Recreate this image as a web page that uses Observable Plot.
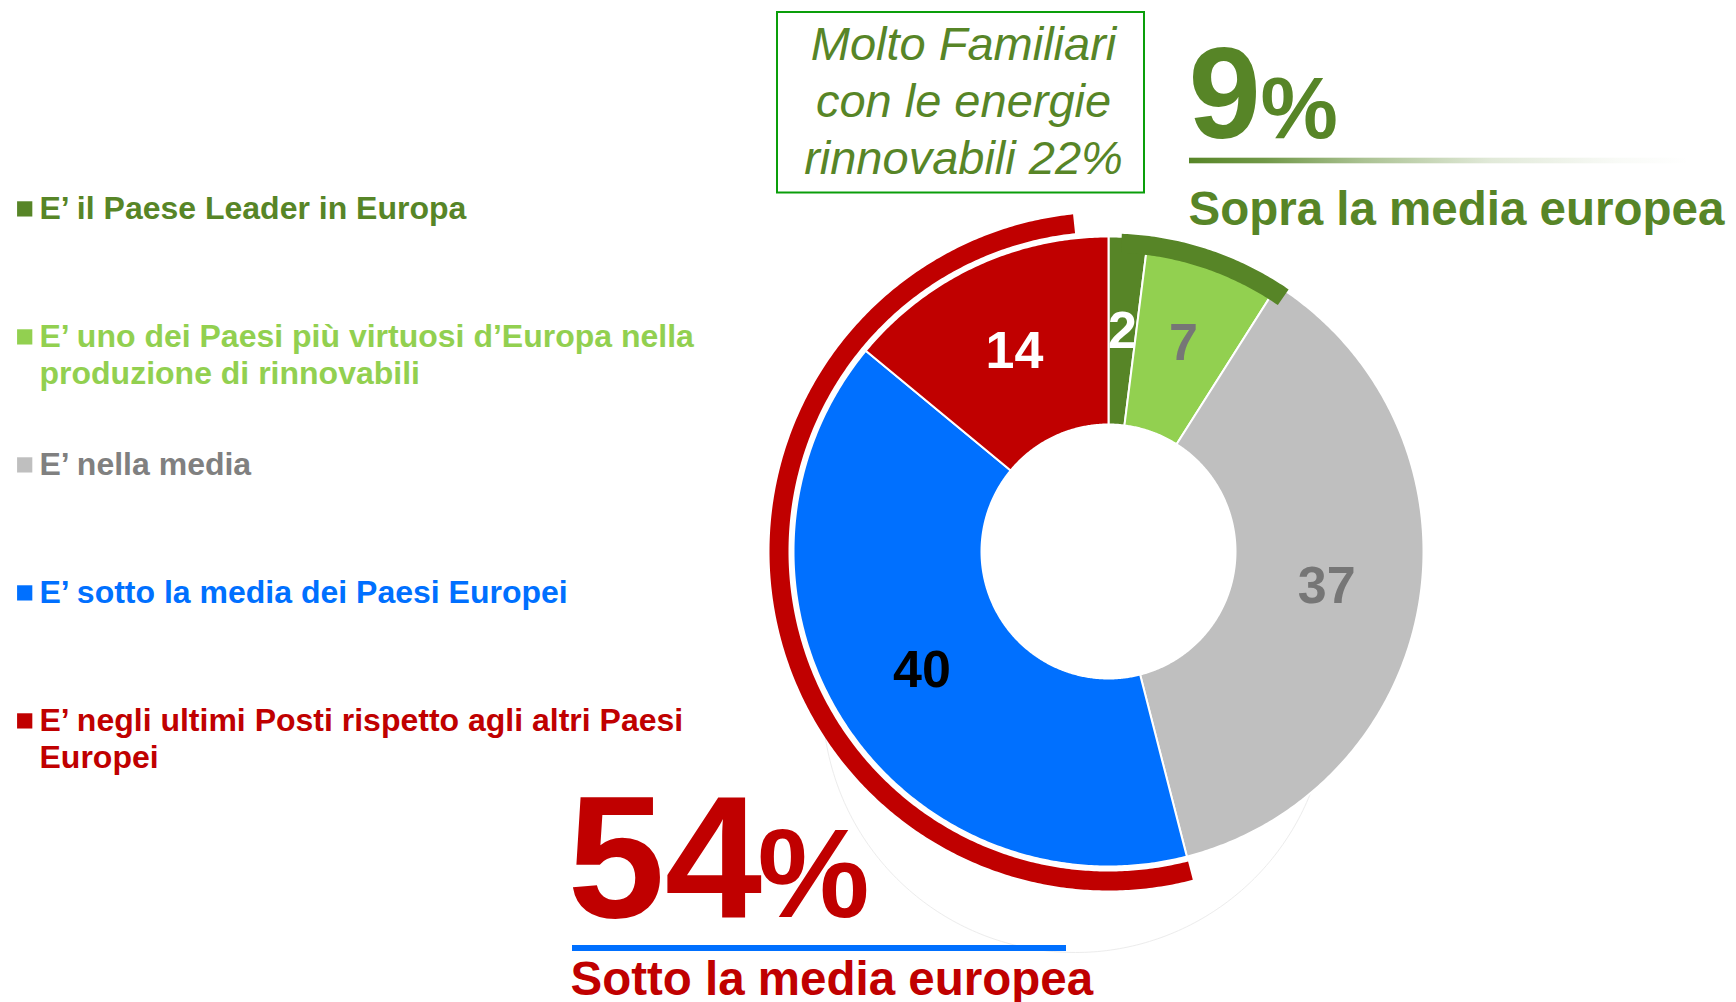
<!DOCTYPE html>
<html>
<head>
<meta charset="utf-8">
<script src="https://cdn.jsdelivr.net/npm/d3@7"></script>
<script src="https://cdn.jsdelivr.net/npm/@observablehq/plot@0.6"></script>
<style>
  html, body { margin: 0; padding: 0; background: #ffffff; }
  #chart svg { display: block; }
</style>
</head>
<body>
<div id="chart"></div>
<script>
// ---------- data ----------
const categories = [
  "E’ il Paese Leader in Europa",
  "E’ uno dei Paesi più virtuosi d’Europa nella\nproduzione di rinnovabili",
  "E’ nella media",
  "E’ sotto la media dei Paesi Europei",
  "E’ negli ultimi Posti rispetto agli altri Paesi\nEuropei"
];
const values = [2, 7, 37, 40, 14];
const aboveText = "9";
const aboveLabel = "Sopra la media europea";
const belowText = "54";
const belowLabel = "Sotto la media europea";
const boxText = "Molto Familiari\ncon le energie\nrinnovabili 22%";

// ---------- styles ----------
const sliceColors = ["#578527", "#92d050", "#bfbfbf", "#0070ff", "#c00000"];
const legendTextColors = ["#578527", "#92d050", "#808080", "#0070ff", "#c00000"];
const labelColors = ["#ffffff", "#767676", "#767676", "#000000", "#ffffff"];
const GREEN = "#578527", RED = "#c00000", BLUE = "#0070ff";

// ---------- layout ----------
const W = 1736, H = 1002;
const C = {x: 1108, y: 551};
const R_OUT = 315, R_IN = 127;
const deg = Math.PI / 180;

const pie = d3.pie().sort(null).value(d => d)(values);

function ring(a0, a1, r0, r1, key) {
  const pts = [];
  const n = Math.max(2, Math.ceil((a1 - a0) / (0.5 * deg)));
  for (let k = 0; k <= n; ++k) {
    const a = a0 + (a1 - a0) * k / n;
    pts.push({key, x: C.x + r1 * Math.sin(a), y: C.y - r1 * Math.cos(a)});
  }
  for (let k = n; k >= 0; --k) {
    const a = a0 + (a1 - a0) * k / n;
    pts.push({key, x: C.x + r0 * Math.sin(a), y: C.y - r0 * Math.cos(a)});
  }
  return pts;
}

const slicePts = pie.flatMap((p, i) => ring(p.startAngle, p.endAngle, R_IN, R_OUT, categories[i]));
const greenBracket = ring(pie[0].startAngle + 2.4 * deg, pie[1].endAngle + 2.1 * deg, 299, 318, "g");
const redBracket = ring(pie[3].startAngle, pie[4].endAngle - 6 * deg, 320, 339, "r");

// faint shadow outline below the donut (lower part only)
const shadow = d3.range(105, 266, 1).map(a => ({x: 1075 + 253 * Math.sin(a * deg), y: 699 - 253 * Math.cos(a * deg)}));

const labels = pie.map((p, i) => {
  const a = (p.startAngle + p.endAngle) / 2, r = (R_IN + R_OUT) / 2;
  return {text: String(values[i]), color: labelColors[i], x: C.x + r * Math.sin(a), y: C.y - r * Math.cos(a)};
});

const LEG_TOP = 218, LEG_STEP = 128, LEG_LH = 37.5;
const legend = categories.map((c, i) => {
  const n = c.split("\n").length;
  return {key: c, text: c, color: legendTextColors[i], base: LEG_TOP + i * LEG_STEP, last: LEG_TOP + i * LEG_STEP + (n - 1) * LEG_LH};
});

const gradientDefs = () => {
  const defs = d3.create("svg:defs");
  const g = defs.append("linearGradient").attr("id", "fadeGreen")
    .attr("x1", 0).attr("x2", 1).attr("y1", 0).attr("y2", 0);
  [[0, 1], [0.15, 0.85], [0.35, 0.5], [0.6, 0.18], [0.85, 0.04], [1, 0]].forEach(([o, op]) =>
    g.append("stop").attr("offset", o).attr("stop-color", GREEN).attr("stop-opacity", op));
  return defs.node();
};

const boldText = (data, opts) => Plot.text(data, {text: d => d, fontWeight: "bold", textAnchor: "start", lineAnchor: "bottom", ...opts});

const marks = [
  gradientDefs,
  Plot.line(shadow, {x: "x", y: "y", stroke: "#ececec", strokeWidth: 1}),
  Plot.line(slicePts, {x: "x", y: "y", z: "key", fill: "key", stroke: "#ffffff", strokeWidth: 2, strokeLinejoin: "round", curve: "linear-closed"}),
  Plot.line(greenBracket, {x: "x", y: "y", fill: GREEN, stroke: "none", curve: "linear-closed"}),
  Plot.line(redBracket, {x: "x", y: "y", fill: RED, stroke: "none", curve: "linear-closed"}),
  ...Array.from(new Set(labelColors)).map(col =>
    Plot.text(labels.filter(d => d.color === col), {x: "x", y: "y", text: "text", fill: col, fontSize: 52, fontWeight: "bold"})),
  // legend
  Plot.dot(legend, {x: 24.2, y: d => d.base - 9.6, symbol: "square", r: 8.6, fill: "key"}),
  ...legend.map(d => Plot.text([d], {x: 39, y: "last", text: "text", fill: d.color, fontSize: 32, fontWeight: "bold", textAnchor: "start", lineAnchor: "bottom", lineHeight: LEG_LH / 32})),
  // box
  Plot.rect([0], {x1: 777, x2: 1144, y1: 12, y2: 192.5, fill: "none", stroke: "#0a9e0a", strokeWidth: 2}),
  Plot.text([boxText], {x: 963, y: 173, text: d => d, fill: GREEN, fontSize: 47, fontStyle: "italic", lineAnchor: "bottom", lineHeight: 57 / 47}),
  // above
  boldText([aboveText], {x: 1188, y: 137, fill: GREEN, fontSize: 130}),
  boldText(["%"], {x: 1260, y: 137, fill: GREEN, fontSize: 87}),
  Plot.rect([0], {x1: 1189, x2: 1690, y1: 157.7, y2: 163.3, fill: "url(#fadeGreen)"}),
  boldText([aboveLabel], {x: 1188, y: 224, fill: GREEN, fontSize: 47.5}),
  // below
  boldText([belowText], {x: 567, y: 916.7, fill: RED, fontSize: 175}),
  boldText(["%"], {x: 757, y: 916.7, fill: RED, fontSize: 126}),
  Plot.rect([0], {x1: 572, x2: 1066, y1: 945, y2: 951, fill: BLUE}),
  boldText([belowLabel], {x: 570, y: 994, fill: RED, fontSize: 47.5})
];

const chart = Plot.plot({
  width: W,
  height: H,
  margin: 0,
  x: {domain: [0, W], range: [0, W], axis: null},
  y: {domain: [0, H], range: [0, H], axis: null},
  color: {domain: categories, range: sliceColors},
  style: {fontFamily: "'Liberation Sans', Arial, sans-serif", background: "#ffffff", overflow: "visible"},
  marks
});
document.getElementById("chart").appendChild(chart);
</script>
</body>
</html>
